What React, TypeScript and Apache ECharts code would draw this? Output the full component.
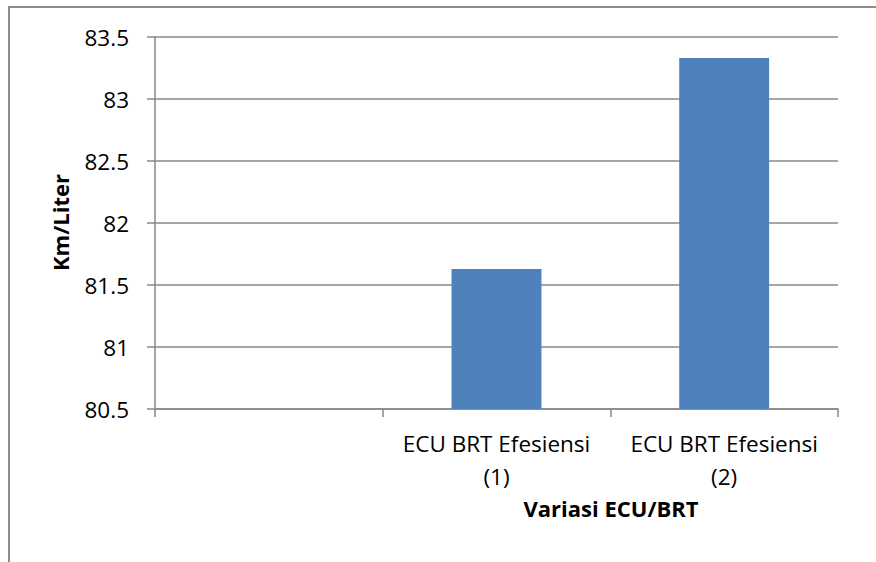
import React, { useEffect, useRef } from "react";
import * as echarts from "echarts";

const categories = ["", "ECU BRT Efesiensi\n(1)", "ECU BRT Efesiensi\n(2)"];
const values: (number | null)[] = [null, 81.63, 83.33];
const yMin = 80.5;
const yMax = 83.5;
const yStep = 0.5;
const yTitle = "Km/Liter";
const xTitle = "Variasi ECU/BRT";

const FONT = "'Open Sans', sans-serif";

export default function App() {
  const ref = useRef<HTMLDivElement>(null);
  useEffect(() => {
    if (!ref.current) return;
    const chart = echarts.init(ref.current, null, { renderer: "svg" });
    chart.setOption({
      animation: false,
      backgroundColor: "#ffffff",
      textStyle: { fontFamily: FONT },
      grid: { left: 155, right: 38, top: 37, bottom: 153, containLabel: false },
      xAxis: {
        type: "category",
        data: categories,
        axisLine: { show: true, lineStyle: { color: "#888888", width: 1.5 } },
        axisTick: { show: true, length: 8, alignWithLabel: false, lineStyle: { color: "#888888", width: 1.5 } },
        axisLabel: {
          interval: 0,
          margin: 18,
          color: "#000000",
          fontFamily: FONT,
          fontSize: 22.5,
          lineHeight: 33,
        },
        splitLine: { show: false },
      },
      yAxis: {
        type: "value",
        min: yMin,
        max: yMax,
        interval: yStep,
        axisLine: { show: true, lineStyle: { color: "#888888", width: 1.5 } },
        axisTick: { show: true, length: 8, inside: false, lineStyle: { color: "#888888", width: 1.5 } },
        axisLabel: {
          margin: 26,
          color: "#000000",
          fontFamily: FONT,
          fontSize: 22.5,
        },
        splitLine: { show: true, lineStyle: { color: "#888888", width: 1.5 } },
      },
      series: [
        {
          type: "bar",
          data: values,
          barCategoryGap: "60.5%",
          itemStyle: { color: "#4f81bd" },
        },
      ],
      graphic: [
        {
          type: "rect",
          shape: { x: 9, y: 7, width: 1000, height: 1000 },
          style: { fill: "none", stroke: "#8c8c8c", lineWidth: 2 },
          silent: true,
        },
        {
          type: "text",
          x: 60,
          y: 222.5,
          rotation: Math.PI / 2,
          style: {
            text: yTitle,
            fontFamily: FONT,
            fontWeight: "bold",
            fontSize: 22,
            fill: "#000000",
            align: "center",
            verticalAlign: "middle",
          },
        },
        {
          type: "text",
          x: 611,
          y: 508,
          style: {
            text: xTitle,
            fontFamily: FONT,
            fontWeight: "bold",
            fontSize: 22,
            fill: "#000000",
            align: "center",
            verticalAlign: "middle",
          },
        },
      ],
    });
    return () => chart.dispose();
  }, []);
  return (
    <div
      ref={ref}
      style={{ position: "fixed", left: 0, top: 0, width: 876, height: 562 }}
    />
  );
}
